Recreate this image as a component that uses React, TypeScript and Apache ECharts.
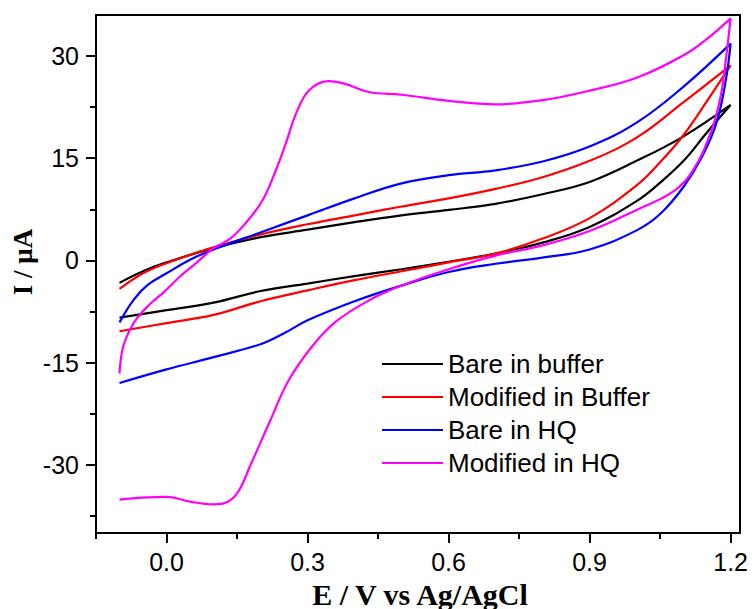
import React, { useEffect, useRef } from "react";
import * as echarts from "echarts";

// Tick values
const xMajorTicks = [0.0, 0.3, 0.6, 0.9, 1.2];
const xMinorTicks = [-0.15, 0.15, 0.45, 0.75, 1.05];
const yMajorTicks = [-30, -15, 0, 15, 30];
const yMinorTicks = [-37.5, -22.5, -7.5, 7.5, 22.5];

const seriesNames = ["Bare in buffer", "Modified in Buffer", "Bare in HQ", "Modified in HQ"];
const seriesColors = ["#000000", "#ff0000", "#0000ff", "#ff00ff"];

// Bare in buffer (forward then reverse scan)
const bareBufferE = [-0.1, -0.05, 0.0, 0.1, 0.2, 0.3, 0.4, 0.5, 0.6, 0.7, 0.8, 0.9, 1.0, 1.1, 1.2,
  1.15, 1.1, 1.05, 1.0, 0.9, 0.8, 0.7, 0.6, 0.5, 0.4, 0.3, 0.2, 0.1, 0.0, -0.1];
const bareBufferI = [-3.3, -1.6, -0.3, 1.8, 3.4, 4.5, 5.6, 6.6, 7.4, 8.3, 9.7, 11.5, 14.6, 18.2, 22.8,
  18.8, 14.6, 11.4, 8.7, 4.9, 2.6, 1.0, -0.2, -1.3, -2.3, -3.4, -4.5, -6.2, -7.3, -8.4];

// Modified in Buffer
const modBufferE = [-0.1, -0.05, 0.0, 0.1, 0.2, 0.3, 0.4, 0.5, 0.6, 0.7, 0.8, 0.9, 1.0, 1.1, 1.2,
  1.15, 1.1, 1.05, 1.0, 0.9, 0.8, 0.7, 0.6, 0.5, 0.4, 0.3, 0.2, 0.1, 0.0, -0.1];
const modBufferI = [-4.2, -1.9, -0.4, 1.9, 3.8, 5.3, 6.6, 7.9, 9.1, 10.5, 12.2, 14.6, 18.0, 23.2, 28.6,
  23.4, 18.4, 14.4, 11.0, 6.2, 3.2, 1.0, -0.3, -1.6, -2.9, -4.4, -6.0, -8.0, -9.2, -10.4];

// Bare in HQ
const bareHQE = [-0.1, -0.07, -0.04, 0.0, 0.05, 0.1, 0.2, 0.3, 0.4, 0.5, 0.6, 0.7, 0.8, 0.9, 1.0, 1.1, 1.2,
  1.19, 1.17, 1.14, 1.1, 1.05, 1.0, 0.9, 0.8, 0.7, 0.6, 0.5, 0.4, 0.3, 0.25, 0.2, 0.1, 0.0, -0.1];
const bareHQI = [-9.1, -5.8, -3.6, -1.9, 0.1, 1.6, 4.1, 6.6, 9.1, 11.3, 12.5, 13.2, 14.5, 16.7, 20.2, 25.5, 31.8,
  26.5, 20.2, 15.3, 10.8, 6.8, 4.4, 1.6, 0.4, -0.5, -1.7, -3.7, -6.0, -8.8, -10.7, -12.3, -14.2, -16.0, -18.0];

// Modified in HQ
const modHQE = [-0.1, -0.095, -0.086, -0.065, -0.035, -0.008, 0.03, 0.063, 0.1, 0.134, 0.169, 0.205, 0.233, 0.254, 0.276, 0.304, 0.345, 0.38, 0.43, 0.5, 0.6, 0.7, 0.8, 0.9, 1.0, 1.1, 1.15, 1.2,
  1.19, 1.18, 1.16, 1.12, 1.08, 1.0, 0.9, 0.8, 0.7, 0.6, 0.5, 0.43, 0.36, 0.31, 0.26, 0.22, 0.18, 0.15, 0.12, 0.1, 0.05, 0.0, -0.05, -0.1];
const modHQI = [-16.6, -13.5, -11.4, -8.7, -6.4, -4.8, -2.3, -0.4, 1.8, 3.1, 5.5, 8.9, 13.3, 17.2, 21.6, 25.0, 26.3, 25.9, 24.7, 24.3, 23.4, 22.9, 23.5, 24.9, 26.8, 30.1, 32.5, 35.5,
  29.5, 24.5, 19.2, 13.2, 10.2, 7.4, 4.3, 2.2, 0.7, -1.3, -3.7, -5.9, -9.0, -12.6, -17.6, -23.6, -29.8, -34.2, -35.7, -35.8, -35.4, -34.7, -34.8, -35.1];

const seriesE = [bareBufferE, modBufferE, bareHQE, modHQE];
const seriesI = [bareBufferI, modBufferI, bareHQI, modHQI];

const SANS = "'Liberation Sans', Arial, sans-serif";
const SERIF = "'Liberation Serif', 'Times New Roman', serif";

export default function App() {
  const ref = useRef<HTMLDivElement>(null);
  useEffect(() => {
    if (!ref.current) return;
    const chart = echarts.init(ref.current, null, { renderer: "svg" });
    const yMin = -40, yMax = 36, xMin = -0.15, xMax = 1.22;
    const option: any = {
      animation: false,
      backgroundColor: "#ffffff",
      grid: { left: 96, right: 12, top: 15, bottom: 76, show: true, borderColor: "#000", borderWidth: 2, backgroundColor: "transparent" },
      xAxis: [
        {
          type: "value", min: xMin, max: xMax,
          axisLine: { show: true, onZero: false, lineStyle: { color: "#000", width: 2 } },
          axisTick: { show: true, customValues: xMajorTicks, length: 10, lineStyle: { color: "#000", width: 2 } },
          axisLabel: { customValues: xMajorTicks, formatter: (v: number) => v.toFixed(1), fontSize: 25, fontFamily: SANS, color: "#000", margin: 16 },
          splitLine: { show: false },
        },
        {
          type: "value", min: xMin, max: xMax, position: "bottom",
          axisLine: { show: false, onZero: false },
          axisTick: { show: true, customValues: xMinorTicks, length: 6, lineStyle: { color: "#000", width: 2 } },
          axisLabel: { show: false },
          splitLine: { show: false },
        },
      ],
      yAxis: [
        {
          type: "value", min: yMin, max: yMax,
          axisLine: { show: true, onZero: false, lineStyle: { color: "#000", width: 2 } },
          axisTick: { show: true, customValues: yMajorTicks, length: 10, lineStyle: { color: "#000", width: 2 } },
          axisLabel: { customValues: yMajorTicks, formatter: (v: number) => String(v), fontSize: 25, fontFamily: SANS, color: "#000", margin: 17 },
          splitLine: { show: false },
        },
        {
          type: "value", min: yMin, max: yMax, position: "left",
          axisLine: { show: false, onZero: false },
          axisTick: { show: true, customValues: yMinorTicks, length: 6, lineStyle: { color: "#000", width: 2 } },
          axisLabel: { show: false },
          splitLine: { show: false },
        },
      ],
      legend: {
        orient: "vertical",
        left: 377,
        top: 346,
        itemWidth: 61,
        itemHeight: 2,
        itemGap: 7,
        icon: "rect",
        data: seriesNames,
        textStyle: { fontSize: 26, lineHeight: 26, fontFamily: SANS, color: "#000" },
      },
      graphic: [
        {
          type: "text", x: 420, y: 594,
          style: { text: "E / V vs Ag/AgCl", font: `bold 30px ${SERIF}`, fill: "#000", textAlign: "center", textVerticalAlign: "middle" },
        },
        {
          type: "text", x: 23, y: 262, rotation: Math.PI / 2,
          style: { text: "I / μA", font: `bold 27px ${SERIF}`, fill: "#000", textAlign: "center", textVerticalAlign: "middle" },
        },
      ],
      series: seriesNames.map((name, k) => ({
        name,
        type: "line",
        xAxisIndex: 0,
        yAxisIndex: 0,
        data: seriesE[k].map((e, i) => [e, seriesI[k][i]]),
        showSymbol: false,
        symbol: "none",
        smooth: 0.4,
        lineStyle: { color: seriesColors[k], width: 2.2 },
        itemStyle: { color: seriesColors[k] },
      })),
    };
    chart.setOption(option);
    return () => chart.dispose();
  }, []);
  return <div ref={ref} style={{ position: "absolute", left: 0, top: 0, width: 752, height: 609, background: "#fff" }} />;
}
